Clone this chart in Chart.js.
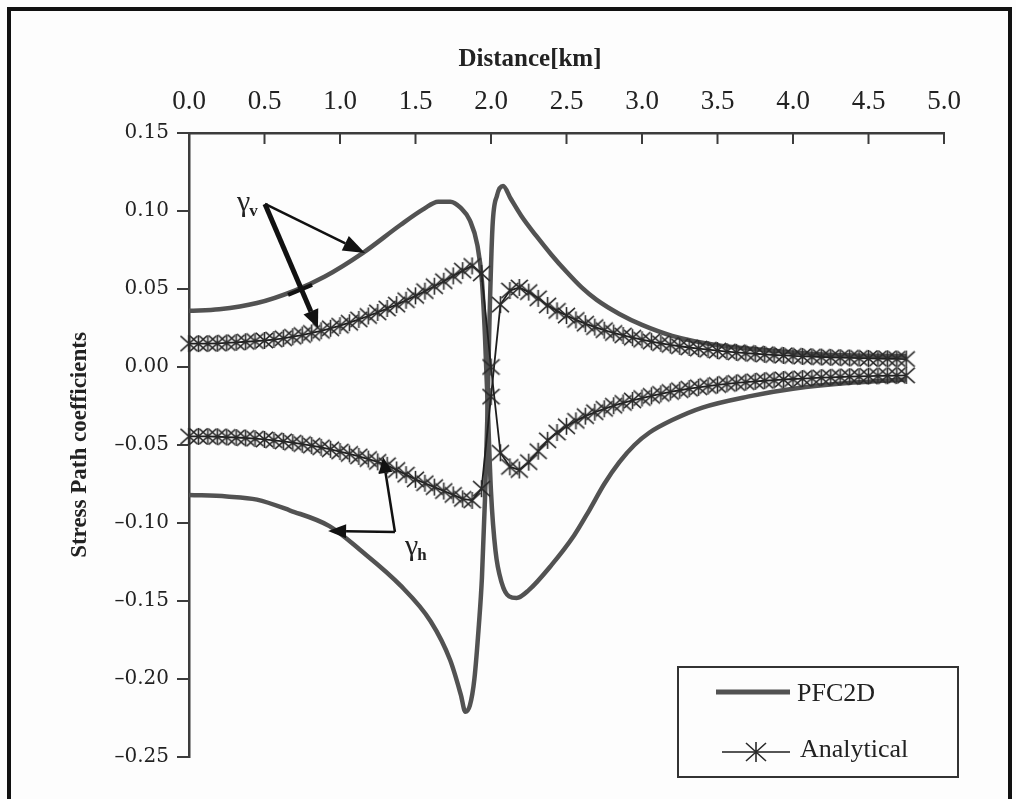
<!DOCTYPE html>
<html>
<head>
<meta charset="utf-8">
<title>Stress Path coefficients</title>
<script src="https://cdn.jsdelivr.net/npm/chart.js@4.4.1/dist/chart.umd.min.js"></script>
<style>
  html, body { margin: 0; padding: 0; background: #fff; }
  #wrap { position: relative; width: 1016px; height: 799px; overflow: hidden; background: #fdfdfd; }
  #wrap canvas { position: absolute; left: 0; top: 0; }
  #frame { position: absolute; left: 7px; top: 7px; width: 1005px; height: 840px; border: 4px solid #111; box-sizing: border-box; pointer-events: none; }
</style>
</head>
<body>
<div id="wrap">
  <canvas id="chart" width="1016" height="799"></canvas>
  <div id="frame"></div>
</div>
<script>
// --- data ---

// x ticks (km) and y ticks
const xTicks = [0, 0.5, 1, 1.5, 2, 2.5, 3, 3.5, 4, 4.5, 5];
const yTicks = [-0.25, -0.2, -0.15, -0.1, -0.05, 0, 0.05, 0.1, 0.15];

// PFC2D, gamma_v (upper left, lower right)
const pfcVx = [0, 0.2, 0.45, 0.7, 0.9, 1.15, 1.4, 1.55, 1.65, 1.73, 1.8, 1.86, 1.91, 1.94, 1.96, 1.98, 2.0, 2.03, 2.07, 2.12,
               2.17, 2.25, 2.4, 2.55, 2.65, 2.75, 2.85, 2.95, 3.05, 3.2, 3.4, 3.7, 4.0, 4.4, 4.75];
const pfcVy = [0.036, 0.037, 0.041, 0.049, 0.058, 0.073, 0.091, 0.101, 0.106, 0.106, 0.102, 0.094, 0.078, 0.055, 0.02, -0.03, -0.08, -0.118, -0.138, -0.147,
               -0.148, -0.143, -0.127, -0.108, -0.092, -0.075, -0.061, -0.050, -0.042, -0.034, -0.026, -0.019, -0.014, -0.010, -0.008];

// PFC2D, gamma_h (lower left, upper right)
const pfcHx = [0, 0.25, 0.45, 0.67, 0.93, 1.13, 1.4, 1.6, 1.73, 1.8, 1.83, 1.86, 1.89, 1.92, 1.94, 1.96, 1.975, 1.99, 2.01, 2.04,
               2.08, 2.13, 2.2, 2.3, 2.4, 2.5, 2.6, 2.7, 2.85, 3.0, 3.2, 3.5, 3.8, 4.2, 4.75];
const pfcHy = [-0.082, -0.083, -0.085, -0.092, -0.102, -0.117, -0.14, -0.163, -0.188, -0.21, -0.221, -0.217, -0.2, -0.165, -0.135, -0.085, -0.035, 0.03, 0.09, 0.11,
               0.116, 0.108, 0.097, 0.084, 0.072, 0.061, 0.051, 0.043, 0.034, 0.027, 0.020, 0.014, 0.011, 0.008, 0.007];

// Analytical solution, sampled every 0.0625 km
const anX = [0, 0.0625, 0.125, 0.1875, 0.25, 0.3125, 0.375, 0.4375, 0.5, 0.5625, 0.625, 0.6875, 0.75, 0.8125, 0.875, 0.9375,
             1, 1.0625, 1.125, 1.1875, 1.25, 1.3125, 1.375, 1.4375, 1.5, 1.5625, 1.625, 1.6875, 1.75, 1.8125, 1.875, 1.9375,
             2, 2.0625, 2.125, 2.1875, 2.25, 2.3125, 2.375, 2.4375, 2.5, 2.5625, 2.625, 2.6875, 2.75, 2.8125, 2.875, 2.9375,
             3, 3.0625, 3.125, 3.1875, 3.25, 3.3125, 3.375, 3.4375, 3.5, 3.5625, 3.625, 3.6875, 3.75, 3.8125, 3.875, 3.9375,
             4, 4.0625, 4.125, 4.1875, 4.25, 4.3125, 4.375, 4.4375, 4.5, 4.5625, 4.625, 4.6875, 4.75];
const anVy = [0.015, 0.015, 0.015, 0.0152, 0.0155, 0.0158, 0.0162, 0.0166, 0.017, 0.0176, 0.0184, 0.0194, 0.0205, 0.0218, 0.0232, 0.0248,
              0.0265, 0.0284, 0.0305, 0.0327, 0.035, 0.0375, 0.040, 0.0428, 0.0456, 0.0486, 0.0518, 0.055, 0.0584, 0.0618, 0.0648, 0.060,
              0.0, -0.055, -0.064, -0.066, -0.061, -0.054, -0.047, -0.042, -0.038, -0.0345, -0.0315, -0.029, -0.0268, -0.0248, -0.023, -0.0214,
              -0.0199, -0.0185, -0.0172, -0.016, -0.0149, -0.0139, -0.013, -0.0122, -0.0115, -0.0108, -0.0102, -0.0097, -0.0092, -0.0088, -0.0084, -0.008,
              -0.0077, -0.0074, -0.0071, -0.0068, -0.0066, -0.0064, -0.0062, -0.006, -0.0058, -0.0057, -0.0056, -0.0055, -0.0054];
const anHy = [-0.0445, -0.0445, -0.0445, -0.0447, -0.0449, -0.0452, -0.0455, -0.0459, -0.0464, -0.047, -0.0477, -0.0485, -0.0494, -0.0504, -0.0515, -0.0528,
              -0.0542, -0.0557, -0.0573, -0.059, -0.0608, -0.063, -0.066, -0.069, -0.072, -0.0745, -0.077, -0.0795, -0.082, -0.0845, -0.0855, -0.078,
              -0.019, 0.040, 0.049, 0.051, 0.048, 0.044, 0.0395, 0.036, 0.033, 0.0302, 0.0278, 0.0256, 0.0236, 0.0218, 0.0202, 0.0188,
              0.0175, 0.0163, 0.0152, 0.0142, 0.0133, 0.0125, 0.0118, 0.0111, 0.0105, 0.0099, 0.0094, 0.0089, 0.0085, 0.0081, 0.0077, 0.0074,
              0.0071, 0.0068, 0.0066, 0.0064, 0.0062, 0.006, 0.0058, 0.0057, 0.0055, 0.0054, 0.0053, 0.0052, 0.0051];

// --- styles ---
const SERIF = '"Liberation Serif", "Times New Roman", serif';
const AXIS_COLOR = '#3c3c3c';
const TEXT_COLOR = '#222';
const PFC_COLOR = '#525252';
const AN_COLOR = '#1e1e1e';

const toPoints = (xs, ys) => xs.map((x, i) => ({ x: x, y: ys[i] }));

// asterisk marker (X + vertical bar), like the one in the figure
function makeStar(size, lw) {
    const c = document.createElement('canvas');
    c.width = size; c.height = size;
    const g = c.getContext('2d');
    const m = size / 2, r = size / 2 - 1;
    g.strokeStyle = '#2a2a2a';
    g.lineWidth = lw;
    g.beginPath();
    g.moveTo(m - r, m - r * 0.9); g.lineTo(m + r, m + r * 0.9);
    g.moveTo(m + r, m - r * 0.9); g.lineTo(m - r, m + r * 0.9);
    g.moveTo(m, 1); g.lineTo(m, size - 1);
    g.stroke();
    return c;
}
const star = makeStar(19, 1.6);
const legendStar = makeStar(22, 1.6);

// annotation arrows (data coordinates)
const notes = [
    { sub: 'v', text: [0.318, 0.1000], from: [0.503, 0.1045],
      arrows: [{ to: [1.166, 0.0731], w: 2.5, len: 22, half: 8 }, { to: [0.854, 0.025], w: 5, len: 18, half: 8 }],
      dash: [[0.656, 0.0462], [0.815, 0.0526]] },
    { sub: 'h', text: [1.43, -0.1205], from: [1.364, -0.1058],
      arrows: [{ to: [1.285, -0.0577], w: 2.5, len: 16, half: 7 }, { to: [0.921, -0.1051], w: 2.5, len: 18, half: 7 }] }
];

function arrow(ctx, x0, y0, x1, y1, w, len, half) {
    const a = Math.atan2(y1 - y0, x1 - x0);
    const bx = x1 - Math.cos(a) * len, by = y1 - Math.sin(a) * len;
    ctx.lineWidth = w;
    ctx.beginPath(); ctx.moveTo(x0, y0); ctx.lineTo(bx, by); ctx.stroke();
    ctx.beginPath();
    ctx.moveTo(x1, y1);
    ctx.lineTo(bx + Math.sin(a) * half, by - Math.cos(a) * half);
    ctx.lineTo(bx - Math.sin(a) * half, by + Math.cos(a) * half);
    ctx.closePath(); ctx.fill();
}

const extras = {
    id: 'extras',
    afterDraw(chart) {
        const { ctx, chartArea } = chart;
        const xs = chart.scales.x, ys = chart.scales.y;
        ctx.save();

        // tick marks of the top axis point into the plot
        ctx.strokeStyle = AXIS_COLOR; ctx.lineWidth = 2;
        xs.ticks.forEach((t, i) => {
            const px = xs.getPixelForTick(i);
            ctx.beginPath(); ctx.moveTo(px, chartArea.top); ctx.lineTo(px, chartArea.top + 11); ctx.stroke();
        });

        // x axis title (sits left of centre in the original)
        ctx.fillStyle = TEXT_COLOR;
        ctx.font = 'bold 25px ' + SERIF;
        ctx.textAlign = 'center'; ctx.textBaseline = 'middle';
        ctx.fillText('Distance[km]', 530, 60);

        // gamma annotations
        ctx.strokeStyle = '#111'; ctx.fillStyle = '#111'; ctx.lineCap = 'butt';
        notes.forEach(n => {
            const fx = xs.getPixelForValue(n.from[0]), fy = ys.getPixelForValue(n.from[1]);
            n.arrows.forEach(a => arrow(ctx, fx, fy, xs.getPixelForValue(a.to[0]), ys.getPixelForValue(a.to[1]), a.w, a.len, a.half));
            if (n.dash) {
                ctx.lineWidth = 4;
                ctx.beginPath();
                ctx.moveTo(xs.getPixelForValue(n.dash[0][0]), ys.getPixelForValue(n.dash[0][1]));
                ctx.lineTo(xs.getPixelForValue(n.dash[1][0]), ys.getPixelForValue(n.dash[1][1]));
                ctx.stroke();
            }
            const tx = xs.getPixelForValue(n.text[0]), ty = ys.getPixelForValue(n.text[1]);
            ctx.fillStyle = '#222';
            ctx.textAlign = 'left'; ctx.textBaseline = 'alphabetic';
            ctx.font = '30px ' + SERIF;
            ctx.fillText('\u03b3', tx, ty);
            const gw = ctx.measureText('\u03b3').width;
            ctx.font = 'bold 17px ' + SERIF;
            ctx.fillText(n.sub, tx + gw - 1, ty + 5);
            ctx.fillStyle = '#111';
        });

        // legend box
        ctx.strokeStyle = '#333'; ctx.lineWidth = 2;
        ctx.strokeRect(678, 667, 280, 110);
        ctx.strokeStyle = PFC_COLOR; ctx.lineWidth = 5;
        ctx.beginPath(); ctx.moveTo(716, 692); ctx.lineTo(790, 692); ctx.stroke();
        ctx.strokeStyle = AN_COLOR; ctx.lineWidth = 1.5;
        ctx.beginPath(); ctx.moveTo(722, 752); ctx.lineTo(790, 752); ctx.stroke();
        ctx.drawImage(legendStar, 756 - legendStar.width / 2, 752 - legendStar.height / 2);
        ctx.fillStyle = TEXT_COLOR;
        ctx.font = '26px ' + SERIF;
        ctx.textAlign = 'left'; ctx.textBaseline = 'middle';
        ctx.fillText('PFC2D', 797, 694);
        ctx.fillText('Analytical', 800, 750);

        ctx.restore();
    }
};

const fmtY = v => {
    if (Math.abs(v) < 1e-9) return '0.00';
    const s = Math.abs(v).toFixed(2);
    return v < 0 ? '\u2013' + s : s;
};

new Chart(document.getElementById('chart'), {
    type: 'scatter',
    data: {
        datasets: [
            { label: 'Analytical', data: toPoints(anX, anVy), showLine: true, borderColor: AN_COLOR, borderWidth: 1.8,
              pointStyle: star, pointRadius: 9, pointHoverRadius: 9, tension: 0, order: 0, clip: false },
            { label: 'Analytical', data: toPoints(anX, anHy), showLine: true, borderColor: AN_COLOR, borderWidth: 1.8,
              pointStyle: star, pointRadius: 9, pointHoverRadius: 9, tension: 0, order: 0, clip: false },
            { label: 'PFC2D', data: toPoints(pfcVx, pfcVy), showLine: true, borderColor: PFC_COLOR, borderWidth: 4.5,
              pointRadius: 0, cubicInterpolationMode: 'monotone', order: 1 },
            { label: 'PFC2D', data: toPoints(pfcHx, pfcHy), showLine: true, borderColor: PFC_COLOR, borderWidth: 4.5,
              pointRadius: 0, cubicInterpolationMode: 'monotone', order: 1 }
        ]
    },
    options: {
        responsive: false,
        animation: false,
        events: [],
        layout: { padding: { left: 0, top: 0, right: 72, bottom: 42 } },
        plugins: { legend: { display: false }, tooltip: { enabled: false } },
        scales: {
            x: {
                type: 'linear', position: 'top', min: 0, max: 5,
                afterBuildTicks: s => { s.ticks = xTicks.map(v => ({ value: v })); },
                ticks: { padding: 15, color: TEXT_COLOR, font: { family: SERIF, size: 27 },
                         maxRotation: 0, autoSkip: false, callback: v => v.toFixed(1) },
                grid: { drawOnChartArea: false, drawTicks: false },
                border: { color: AXIS_COLOR, width: 2.5 },
                afterFit: s => { s.height = 133; }
            },
            y: {
                min: -0.25, max: 0.15,
                afterBuildTicks: s => { s.ticks = yTicks.map(v => ({ value: v })); },
                ticks: { padding: 8, color: TEXT_COLOR, font: { family: '"DejaVu Serif", serif', size: 20 }, callback: fmtY },
                grid: { drawOnChartArea: false, tickLength: 12, color: AXIS_COLOR, lineWidth: 2 },
                border: { color: AXIS_COLOR, width: 2.5 },
                title: { display: true, text: 'Stress Path coefficients', color: TEXT_COLOR,
                         font: { family: SERIF, size: 23, weight: 'bold' }, padding: { top: 66, bottom: 0 } },
                afterFit: s => { s.width = 189; }
            }
        }
    },
    plugins: [extras]
});
</script>
</body>
</html>
